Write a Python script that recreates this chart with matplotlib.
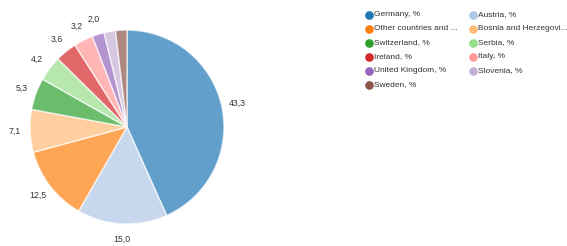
import matplotlib
matplotlib.use("Agg")
import matplotlib.pyplot as plt
from matplotlib.lines import Line2D

plt.rcParams["font.family"] = ["Liberation Sans", "DejaVu Sans"]

countries = ["Germany, %", "Austria, %", "Other countries and ...",
             "Bosnia and Herzegovi...", "Switzerland, %", "Serbia, %",
             "Ireland, %", "Italy, %", "United Kingdom, %", "Slovenia, %",
             "Sweden, %"]
shares = [43.3, 15.0, 12.5, 7.1, 5.3, 4.2, 3.6, 3.2, 2.0, 1.9, 1.9]
label_min = 2.0

W, H = 567, 246
cmap = plt.get_cmap("tab20")
colors = [cmap(i) for i in range(len(shares))]

fig = plt.figure(figsize=(W / 100, H / 100), dpi=100)
ax = fig.add_axes([30 / W, 22 / H, 194 / W, 194 / H])

labels = [f"{v:.1f}".replace(".", ",") if v >= label_min else "" for v in shares]
wedges, texts = ax.pie(
    shares, colors=colors, labels=labels, startangle=90, counterclock=False,
    labeldistance=1.16, radius=1.0,
    wedgeprops=dict(edgecolor="white", linewidth=1, alpha=0.7),
    textprops=dict(fontsize=6.3, color="#333333"),
)
for t in texts:
    t.set_ha("center")
    t.set_va("center")
ax.set_xlim(-1, 1)
ax.set_ylim(-1, 1)
ax.set_aspect("equal")

# legend: two columns, filled row by row, positioned in pixels
for k, (name, c) in enumerate(zip(countries, colors)):
    row, col = divmod(k, 2)
    mx = 369 + 104 * col
    my = H - (15 + 14 * row)
    fig.add_artist(Line2D([mx / W], [my / H], transform=fig.transFigure,
                          marker="o", markersize=5.2, linestyle="",
                          markerfacecolor=c, markeredgecolor=c))
    fig.text((mx + 5) / W, my / H, name, fontsize=6, color="#333333",
             ha="left", va="center")

fig.savefig("out.png", dpi=100)
